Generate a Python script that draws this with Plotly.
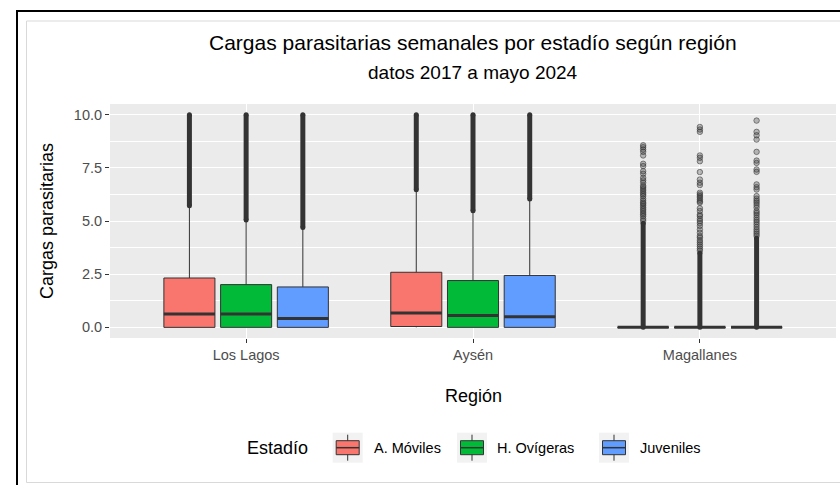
import plotly.graph_objects as go

# ---------------- data ----------------
regions = ["Los Lagos", "Aysén", "Magallanes"]
estadios = ["A. Móviles", "H. Ovígeras", "Juveniles"]
colors = ["#F8766D", "#00BA38", "#619CFF"]
y_ticks = [0, 2.5, 5, 7.5, 10]
y_ticktext = ["0.0", "2.5", "5.0", "7.5", "10.0"]

# one row per estadío, one column per region
lower = [[0.00, 0.00, 0.00], [0.00, 0.00, 0.00], [0.00, 0.00, 0.00]]
q1 = [[0.00, 0.04, 0.00], [0.00, 0.00, 0.00], [0.00, 0.00, 0.00]]
med = [[0.63, 0.68, 0.00], [0.63, 0.56, 0.00], [0.42, 0.50, 0.00]]
q3 = [[2.32, 2.59, 0.00], [2.01, 2.20, 0.00], [1.90, 2.44, 0.00]]
upper = [[5.69, 6.44, 0.00], [5.02, 5.45, 0.00], [4.67, 6.00, 0.00]]

# ranges where outliers overlap into a solid band
dense_lo = [[5.72, 6.47, 0.00], [5.05, 5.48, 0.00], [4.70, 6.03, 0.00]]
dense_hi = [[10.00, 10.00, 4.90], [10.00, 10.00, 3.50], [10.00, 10.00, 4.20]]

# individual (sparser) outliers in Magallanes
mag_out_moviles = [8.56, 8.47, 8.36, 8.25, 8.08, 7.69, 7.58, 7.34, 7.22, 7.03,
                   6.91, 6.80, 6.66, 6.59, 6.50, 6.42, 6.33, 6.25, 6.17, 6.05,
                   5.95, 5.86, 5.80, 5.72, 5.63, 5.55, 5.47, 5.38, 5.30, 5.22,
                   5.10, 5.00]
mag_out_ovigeras = [9.42, 9.30, 9.19, 8.08, 7.97, 7.81, 7.30, 6.95, 6.80, 6.69,
                    6.33, 6.25, 6.17, 6.09, 6.00, 5.92, 5.86, 5.60, 5.47, 5.30,
                    5.23, 5.10, 5.00, 4.90, 4.77, 4.60, 4.45, 4.30, 4.22, 4.10,
                    4.00, 3.90, 3.80, 3.70, 3.60]
mag_out_juveniles = [9.72, 9.19, 9.03, 8.83, 8.25, 7.84, 7.73, 7.42, 7.31, 6.72,
                     6.59, 6.48, 6.17, 6.05, 5.95, 5.86, 5.75, 5.63, 5.47, 5.38,
                     5.28, 5.16, 5.05, 4.95, 4.84, 4.72, 4.60, 4.50, 4.40, 4.30]
mag_outliers = [mag_out_moviles, mag_out_ovigeras, mag_out_juveniles]

# ---------------- layout helpers ----------------
W, H = 840, 485
L, R, T, B = 110, 4, 104, 147
PW = W - L - R
PH = H - T - B
FONT = "Liberation Sans, Arial, sans-serif"


def xp(px):
    return (px - L) / PW


def yp(py):
    return (T + PH - py) / PH


offsets = [-0.25, 0.0, 0.25]
bw = 0.225
DARK = "#333333"

fig = go.Figure()

# boxes
for k in range(3):
    xs = [i + offsets[k] for i in range(len(regions))]
    fig.add_trace(go.Box(
        x=xs, lowerfence=lower[k], q1=q1[k], median=med[k], q3=q3[k],
        upperfence=upper[k], width=bw, fillcolor=colors[k],
        line=dict(color=DARK, width=1), whiskerwidth=0, boxpoints=False,
        showlegend=False, hoverinfo="skip", name=estadios[k]))

# thick median lines
for k in range(3):
    mx, my = [], []
    for i in range(len(regions)):
        c = i + offsets[k]
        mx += [c - bw / 2, c + bw / 2, None]
        my += [med[k][i], med[k][i], None]
    fig.add_trace(go.Scatter(x=mx, y=my, mode="lines",
                             line=dict(color=DARK, width=3),
                             showlegend=False, hoverinfo="skip"))

# dense outlier bands
for k in range(3):
    bx, by = [], []
    for i in range(len(regions)):
        c = i + offsets[k]
        bx += [c, c, None]
        by += [dense_lo[k][i], dense_hi[k][i], None]
    fig.add_trace(go.Scatter(x=bx, y=by, mode="lines+markers",
                             line=dict(color=DARK, width=5),
                             marker=dict(color=DARK, size=5),
                             showlegend=False, hoverinfo="skip"))

# individual outliers (Magallanes)
for k in range(3):
    c = 2 + offsets[k]
    fig.add_trace(go.Scatter(
        x=[c] * len(mag_outliers[k]), y=mag_outliers[k], mode="markers",
        marker=dict(size=5.5, color="rgba(51,51,51,0.3)",
                    line=dict(color="rgba(51,51,51,0.55)", width=1)),
        showlegend=False, hoverinfo="skip"))

shapes = []
# outer black frame and inner grey border
shapes.append(dict(type="rect", xref="paper", yref="paper",
                   x0=xp(17), x1=xp(900), y0=yp(600), y1=yp(11),
                   line=dict(color="black", width=2), fillcolor="rgba(0,0,0,0)"))
shapes.append(dict(type="rect", xref="paper", yref="paper",
                   x0=xp(26.5), x1=xp(900), y0=yp(482.5), y1=yp(21),
                   line=dict(color="#D9D9D9", width=1), fillcolor="rgba(0,0,0,0)"))

annotations = []
annotations.append(dict(text="Cargas parasitarias semanales por estadío según región",
                        x=0.5, y=yp(42), xref="paper", yref="paper",
                        showarrow=False, xanchor="center", yanchor="middle",
                        font=dict(family=FONT, size=21, color="black")))
annotations.append(dict(text="datos 2017 a mayo 2024",
                        x=0.5, y=yp(72), xref="paper", yref="paper",
                        showarrow=False, xanchor="center", yanchor="middle",
                        font=dict(family=FONT, size=19, color="black")))
annotations.append(dict(text="Cargas parasitarias", textangle=-90,
                        x=xp(47), y=0.5, xref="paper", yref="paper",
                        showarrow=False, xanchor="center", yanchor="middle",
                        font=dict(family=FONT, size=18, color="black")))
annotations.append(dict(text="Región",
                        x=0.5, y=yp(396), xref="paper", yref="paper",
                        showarrow=False, xanchor="center", yanchor="middle",
                        font=dict(family=FONT, size=18, color="black")))

# manual ggplot-style legend
legend_cy = 447.7
annotations.append(dict(text="Estadío", x=xp(245), y=yp(legend_cy),
                        xref="paper", yref="paper", showarrow=False,
                        xanchor="left", yanchor="middle",
                        font=dict(family=FONT, size=18, color="black")))
key_x = [332.7, 457.0, 599.0]
text_x = [371.5, 495.0, 638.0]
for k in range(3):
    kx = key_x[k]
    shapes.append(dict(type="rect", xref="paper", yref="paper",
                       x0=xp(kx), x1=xp(kx + 30), y0=yp(legend_cy + 15), y1=yp(legend_cy - 15),
                       line=dict(width=0), fillcolor="#F2F2F2", layer="above"))
    shapes.append(dict(type="line", xref="paper", yref="paper",
                       x0=xp(kx + 15), x1=xp(kx + 15), y0=yp(legend_cy + 13), y1=yp(legend_cy - 13),
                       line=dict(color=DARK, width=1), layer="above"))
    shapes.append(dict(type="rect", xref="paper", yref="paper",
                       x0=xp(kx + 3.5), x1=xp(kx + 26.5), y0=yp(legend_cy + 7), y1=yp(legend_cy - 7),
                       line=dict(color=DARK, width=1), fillcolor=colors[k], layer="above"))
    shapes.append(dict(type="line", xref="paper", yref="paper",
                       x0=xp(kx + 3.5), x1=xp(kx + 26.5), y0=yp(legend_cy), y1=yp(legend_cy),
                       line=dict(color=DARK, width=1.5), layer="above"))
    annotations.append(dict(text=estadios[k], x=xp(text_x[k]), y=yp(legend_cy),
                            xref="paper", yref="paper", showarrow=False,
                            xanchor="left", yanchor="middle",
                            font=dict(family=FONT, size=14.5, color="black")))

fig.update_layout(
    width=W, height=H,
    margin=dict(l=L, r=R, t=T, b=B, autoexpand=False),
    paper_bgcolor="white", plot_bgcolor="#EBEBEB",
    boxmode="overlay", showlegend=False,
    font=dict(family=FONT),
    shapes=shapes, annotations=annotations,
    xaxis=dict(range=[-0.6, 2.6], tickmode="array", tickvals=list(range(len(regions))),
               ticktext=regions, showgrid=True, gridcolor="white", gridwidth=1.1,
               zeroline=False, ticks="outside", ticklen=4, tickwidth=1,
               tickcolor=DARK, tickfont=dict(family=FONT, size=14.5, color="#4D4D4D"),
               showline=False, fixedrange=True),
    yaxis=dict(range=[-0.5, 10.5], tickmode="array", tickvals=y_ticks,
               ticktext=y_ticktext, showgrid=True, gridcolor="white", gridwidth=1.1,
               zeroline=False, ticks="outside", ticklen=4, tickwidth=1,
               tickcolor=DARK, tickfont=dict(family=FONT, size=14.5, color="#4D4D4D"),
               minor=dict(tickmode="array", tickvals=[1.25, 3.75, 6.25, 8.75],
                          showgrid=True, gridcolor="white", gridwidth=0.5, ticks=""),
               showline=False, fixedrange=True),
)

fig.write_html("out.html")
